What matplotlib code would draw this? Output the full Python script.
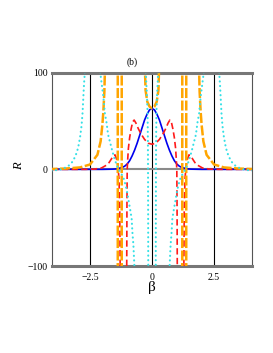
import numpy as np
import matplotlib
matplotlib.use("Agg")
import matplotlib.pyplot as plt

plt.rcParams['font.family'] = ['Liberation Serif', 'DejaVu Serif']

# right half only (curves are symmetric in beta)
blue_b = [0, 0.1, 0.2, 0.3, 0.4, 0.5, 0.6, 0.7, 0.8, 0.9, 1.0, 1.1, 1.2, 1.4, 1.6, 2.0, 4.1]
blue_r = [63, 61.5, 57, 51, 43, 35, 27, 20, 14, 9, 5.5, 3.3, 2, 0.6, 0.2, 0, 0]

red_in_b = [0, 0.15, 0.3, 0.45, 0.55, 0.65, 0.72, 0.78, 0.84, 0.9, 0.95, 0.98, 1.0, 1.01, 1.02]
red_in_r = [26, 27, 31, 37, 42, 48, 51, 49, 42, 33, 22, 10, 0, -40, -110]
red_out_b = [1.28, 1.3, 1.33, 1.37, 1.42, 1.49, 1.56, 1.63, 1.73, 1.83, 2.03, 2.3, 2.7, 4.1]
red_out_r = [-110, -40, -10, 3, 10, 15, 14, 11, 7, 4.4, 1.5, 0.3, 0, 0]

orange_in_b = [0, 0.1, 0.19, 0.26, 0.28, 0.29]
orange_in_r = [63, 65, 70, 82, 100, 110]
orange_pole1_b = [1.22, 1.22]
orange_pole2_b = [1.38, 1.38]
orange_pole_r = [110, -110]
orange_out_b = [1.88, 1.9, 1.92, 1.96, 2.0, 2.07, 2.2, 2.5, 2.9, 3.5, 4.1]
orange_out_r = [110, 100, 80, 60, 46, 29, 15, 5, 2, 0.8, 0.3]

cyan_in_b = [0.26, 0.25, 0.21, 0.18, 0.165, 0.16, 0.155, 0.15]
cyan_in_r = [110, 100, 80, 60, 30, 0, -50, -110]
cyan_mid_b = [2.12, 2.1, 2.03, 1.96, 1.9, 1.83, 1.77, 1.69, 1.6, 1.5, 1.4, 1.3, 1.16, 1.09,
              1.02, 0.96, 0.89, 0.82, 0.79, 0.75, 0.73, 0.71, 0.70]
cyan_mid_r = [110, 103, 89, 75, 58, 48, 36, 28, 19, 10, 3, -2, -8, -14,
              -21, -30, -40, -51, -65, -78, -89, -100, -110]
cyan_out_b = [2.69, 2.70, 2.74, 2.77, 2.80, 2.84, 2.90, 2.98, 3.08, 3.2, 3.35, 3.55, 3.75, 4.1]
cyan_out_r = [110, 103, 88, 73, 58, 45, 33, 22, 14, 8, 4, 1, -0.5, -1.5]

xticks = [-2.5, 0, 2.5]
xticklabels = ['\u22122.5', '0', '2.5']
yticks = [-100, 0, 100]
yticklabels = ['\u2212100', '0', '100']


def mirrored(b, r):
    b = np.asarray(b, float)
    r = np.asarray(r, float)
    return np.concatenate([-b, [np.nan], b]), np.concatenate([r, [np.nan], r])


def through_zero(b, r):
    # branch that passes beta = 0: mirror it into one continuous line
    b = np.asarray(b, float)
    r = np.asarray(r, float)
    return np.concatenate([-b[::-1], b[1:]]), np.concatenate([r[::-1], r[1:]])


def joined(*branches):
    bs, rs = [], []
    for b, r in branches:
        mb, mr = mirrored(b, r)
        bs += [mb, [np.nan]]
        rs += [mr, [np.nan]]
    return np.concatenate(bs), np.concatenate(rs)


fig = plt.figure(figsize=(2.73, 3.53), dpi=100)
ax = fig.add_axes([52 / 273, 1 - 266 / 353, 200 / 273, 193.3 / 353])
ax.set_xlim(-4.03, 4.03)
ax.set_ylim(-100, 100)

for x in xticks:
    ax.axvline(x, color='black', lw=0.8, zorder=1)
ax.axhline(0, color='#8a8a8a', lw=1.5, zorder=1)

# blue solid
ax.plot(*through_zero(blue_b, blue_r), color='#0000ee', lw=1.2, zorder=3)

# red dashed
red_style = dict(color='#ff1a1a', lw=1.2, dashes=(3.8, 2.0), zorder=4)
ax.plot(*through_zero(red_in_b, red_in_r), **red_style)
ax.plot(*mirrored(red_out_b, red_out_r), **red_style)

# orange long dashes
orange_style = dict(color='#ffa500', lw=1.8, dashes=(4.0, 1.0), zorder=5)
ax.plot(*through_zero(orange_in_b, orange_in_r), **orange_style)
ax.plot(*joined((orange_pole1_b, orange_pole_r), (orange_pole2_b, orange_pole_r),
                (orange_out_b, orange_out_r)), **orange_style)

# cyan dotted
ax.plot(*joined((cyan_in_b, cyan_in_r), (cyan_mid_b, cyan_mid_r), (cyan_out_b, cyan_out_r)),
        color='#33e0e6', lw=1.5, dashes=(0.1, 2.1), dash_capstyle='round', zorder=6)

for side in ['top', 'bottom']:
    ax.spines[side].set_color('#777777')
    ax.spines[side].set_linewidth(2.2)
for side in ['left', 'right']:
    ax.spines[side].set_color('#555555')
    ax.spines[side].set_linewidth(0.8)

ax.set_xticks(xticks)
ax.set_xticklabels(xticklabels)
ax.set_yticks(yticks)
ax.set_yticklabels(yticklabels)
ax.tick_params(axis='both', length=0, labelsize=7)
ax.tick_params(axis='x', pad=5)
ax.tick_params(axis='y', pad=3)

fig.text(132 / 273, 1 - 62 / 353, '(b)', fontsize=7, ha='center', va='center')
fig.text(152 / 273, 1 - 288 / 353, '\u03b2', fontsize=11, ha='center', va='center')
fig.text(19 / 273, 1 - 166 / 353, 'R', fontsize=9, style='italic', rotation=90,
         ha='center', va='center')

fig.savefig('out.png', dpi=100)
